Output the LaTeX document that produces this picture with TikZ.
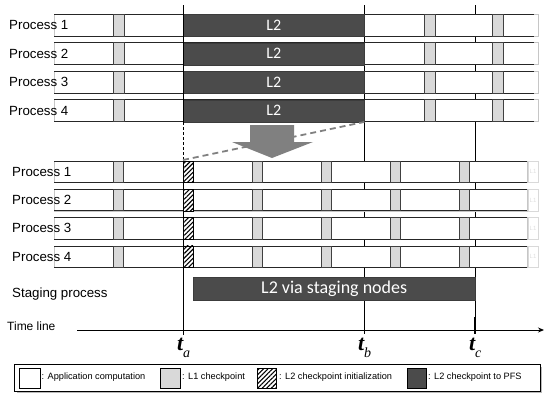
\documentclass[tikz,border=0pt]{standalone}
\usepackage{fontspec}
\setmainfont{Liberation Sans}
\newfontfamily\calibri{Carlito}
\newfontfamily\timesfont{Liberation Serif}
\usepackage{tikz}
\usetikzlibrary{arrows.meta, patterns.meta, positioning, calc}
\definecolor{ltwodark}{RGB}{75, 75, 75}
\definecolor{lonegray}{RGB}{217, 217, 217}
\definecolor{arrowgray}{RGB}{128, 128, 128}

\tikzset{
    procbox/.style={fill=white, draw=gray!45, line width=0.6pt},
    lonebox/.style={fill=lonegray, draw=black!75, line width=0.7pt},
    ltwobox/.style={fill=ltwodark, draw=ltwodark!80!black, text=white, inner sep=0pt, anchor=north west},
    initbox/.style={fill=white, draw=black, line width=0.6pt,
        postaction={pattern={Lines[angle=45, distance=3.2pt, line width=1.1pt]}}},
    plabel/.style={anchor=west, inner sep=0pt, font=\fontsize{13.3}{14}\selectfont},
    legtext/.style={anchor=west, inner sep=0pt, font=\fontsize{9.2}{10}\selectfont},
    tmain/.style={anchor=base east, inner sep=0pt, font=\timesfont\bfseries\itshape\fontsize{22}{22}\selectfont},
    tsub/.style={anchor=base west, inner sep=0pt, font=\timesfont\itshape\fontsize{14}{14}\selectfont},
}

\begin{document}
\begin{tikzpicture}[x=1pt, y=-1pt]
    \useasboundingbox (0,0) rectangle (544,397);

    % Time marks behind the boxes
    \draw[line width=0.8pt] (364,5) -- (364,334);
    \draw[line width=0.8pt] (475,5) -- (475,334);

    % Upper group: L2 checkpoint written directly
    \foreach \i in {1,...,4} {
        \pgfmathsetmacro\yt{14+28.5*(\i-1)}
        \draw[procbox] (54,\yt) rectangle (538,\yt+22);
        \draw[line width=0.7pt, black!85] (54,\yt) -- (534,\yt) (54,\yt+22) -- (534,\yt+22);
        \foreach \x in {113,424,492} \draw[lonebox] (\x,\yt) rectangle +(11,22);
        \node[ltwobox, minimum width=181pt, minimum height=22pt, font=\calibri\fontsize{16}{16}\selectfont] (up-l2-\i) at (183,\yt) {L2};
        \node[plabel] (up-p\i) at (9,\yt+11) {Process \i};
    }

    % Lower group: L2 checkpoint via staging
    \foreach \i in {1,...,4} {
        \pgfmathsetmacro\yt{161+28.3*(\i-1)}
        \draw[procbox] (54,\yt) rectangle (527,\yt+21.5);
        \draw[line width=0.7pt, black!85] (54,\yt) -- (527,\yt) (54,\yt+21.5) -- (527,\yt+21.5);
        \draw[draw=gray!30, fill=white] (528,\yt) rectangle (538,\yt+21.5);
        \node[text=gray!25, font=\fontsize{6}{6}\selectfont, inner sep=0pt] (lo-fade-\i) at (533,\yt+10.75) {L1};
        \foreach \x in {113,252,321,390,459} \draw[lonebox] (\x,\yt) rectangle +(10.5,21.5);
        \draw[initbox] (183,\yt) rectangle +(10,21.5);
        \node[plabel] (lo-p\i) at (12,\yt+10.75) {Process \i};
    }

    % t_a line, dashed between the groups
    \draw[line width=0.8pt] (183,5) -- (183,122);
    \draw[line width=0.8pt, dash pattern=on 3pt off 2pt] (183,122) -- (183,160);
    \draw[line width=0.8pt] (183,160) -- (183,335);

    % Zoom arrow and funnel
    \fill[arrowgray] (250,125) -- (294,125) -- (294,142) -- (313,142) -- (272,158) -- (232,142) -- (250,142) -- cycle;
    \draw[arrowgray, line width=1.8pt, dash pattern=on 6pt off 4pt] (183,160) -- (364,122);

    % Staging process
    \node[plabel] (stage-label) at (12,294) {Staging process};
    \node[ltwobox, minimum width=282pt, minimum height=23pt, font=\calibri\fontsize{18}{18}\selectfont] (stage-l2) at (193,277) {L2 via staging nodes};

    % Time line
    \node[anchor=west, inner sep=0pt, font=\fontsize{12}{13}\selectfont] (tl-label) at (7,326) {Time line};
    \coordinate (tl-start) at (77,330);
    \coordinate (tl-end) at (544,330);
    \draw[line width=0.9pt, -{Stealth[length=6pt, width=5pt]}] (tl-start) -- (tl-end);
    \draw[line width=2.5pt] (475,317) -- (475,334);

    \foreach \x/\s/\n in {183/a/ta, 364/b/tb, 475/c/tc} {
        \node[tmain] (\n-t) at (\x+0.5,350) {t};
        \node[tsub] (\n-s) at (\x,357) {\s};
    }

    % Legend
    \draw[gray!55, line width=1.6pt] (17,392) -- (541.5,392) -- (541.5,367);
    \draw[fill=white, line width=0.7pt] (14,364) rectangle (540,391);
    \draw[fill=white, line width=1pt] (19,368) rectangle (40,388);
    \draw[fill=lonegray, line width=1pt] (160,368) rectangle (180,388);
    \draw[initbox, line width=1pt] (257,368) rectangle (276,388);
    \draw[fill=ltwodark, line width=1pt] (407,368) rectangle (426,388);
    \node[legtext] (leg-app) at (41.5,377.5) {: Application computation};
    \node[legtext] (leg-lone) at (182,377.5) {: L1 checkpoint};
    \node[legtext] (leg-init) at (279,377.5) {: L2 checkpoint initialization};
    \node[legtext] (leg-pfs) at (428,377.5) {: L2 checkpoint to PFS};

\end{tikzpicture}
\end{document}
